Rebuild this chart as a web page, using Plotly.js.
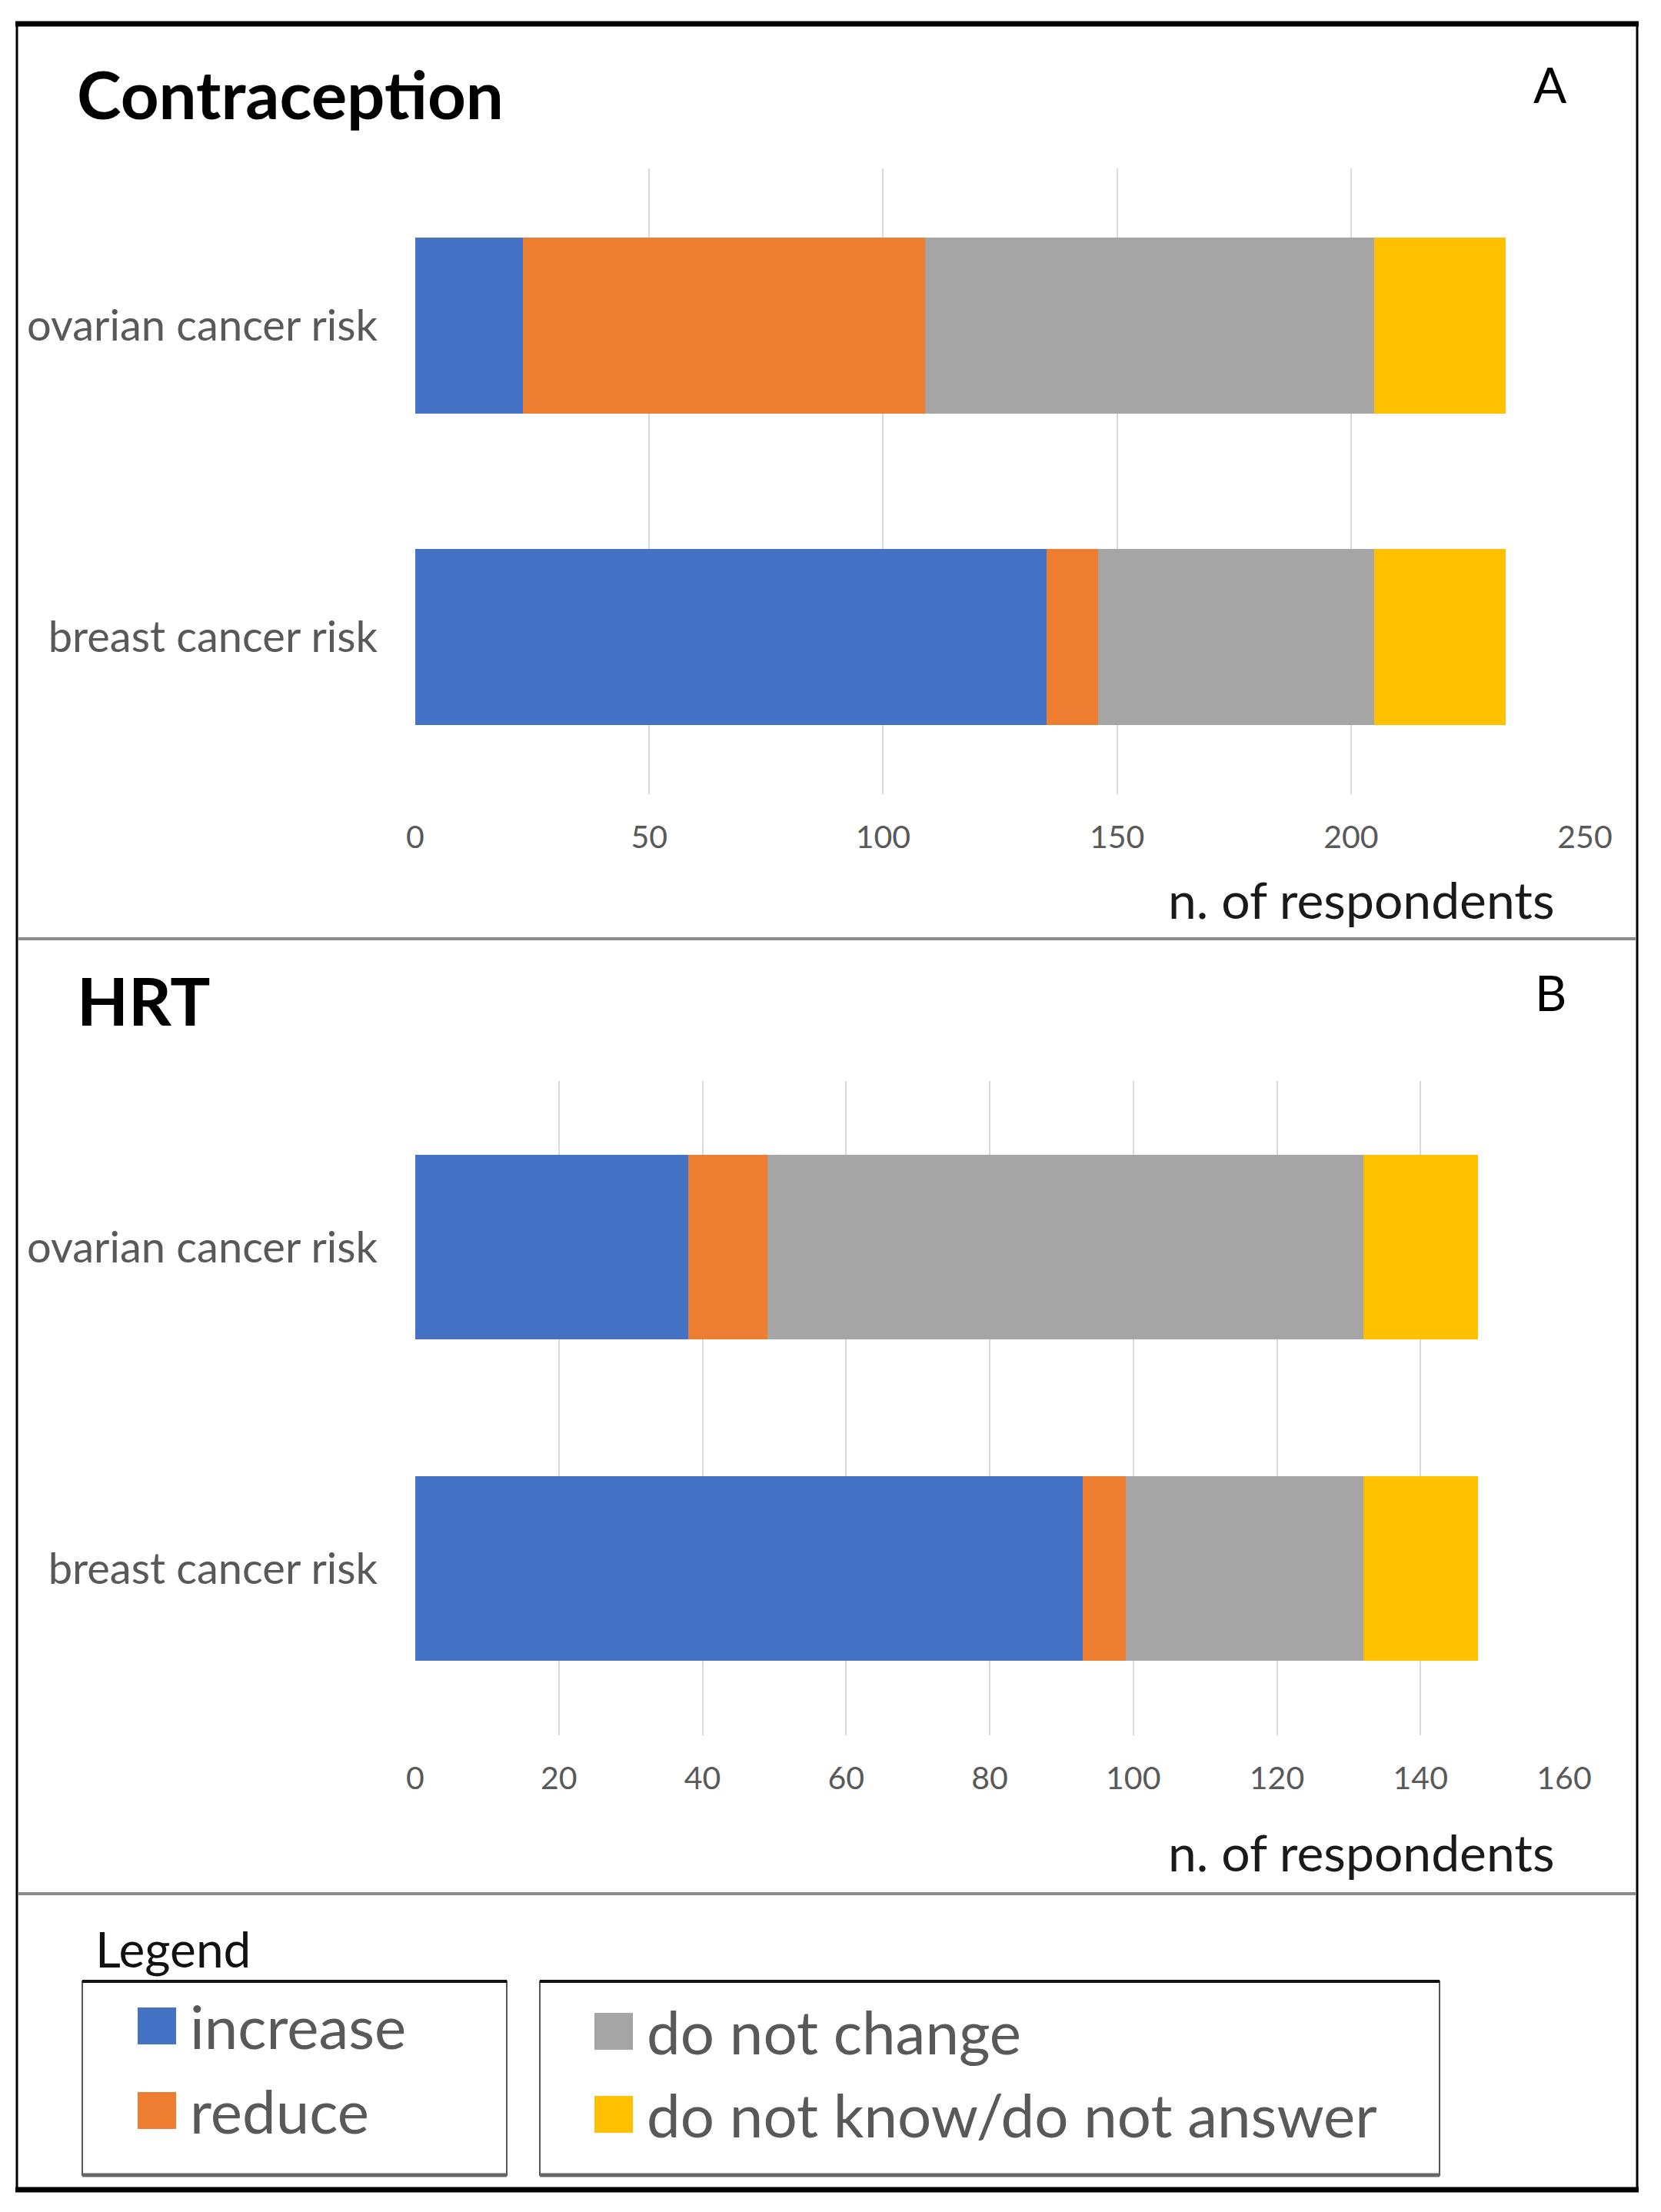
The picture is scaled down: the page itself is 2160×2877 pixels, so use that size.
<!DOCTYPE html>
<html>
<head>
<meta charset="utf-8">
<script src="https://cdn.plot.ly/plotly-3.0.1.min.js"></script>
<style>html,body{margin:0;padding:0;background:#fff;}#chart{width:2160px;height:2877px;}</style>
</head>
<body>
<div id="chart"></div>
<script>
// ---- data ----
const categories = ['ovarian cancer risk', 'breast cancer risk'];
const seriesNames = ['increase', 'reduce', 'do not change', 'do not know/do not answer'];
const seriesColors = ['#4472C4', '#ED7D31', '#A5A5A5', '#FFC000'];

const contraIncrease = [23, 135];
const contraReduce = [86, 11];
const contraNoChange = [96, 59];
const contraDontKnow = [28, 28];

const hrtIncrease = [38, 93];
const hrtReduce = [11, 6];
const hrtNoChange = [83, 33];
const hrtDontKnow = [16, 16];

const contraTicks = [0, 50, 100, 150, 200, 250];
const hrtTicks = [0, 20, 40, 60, 80, 100, 120, 140, 160];

const panelTitles = ['Contraception', 'HRT'];
const panelLetters = ['A', 'B'];
const axisTitle = 'n. of respondents';
const legendTitle = 'Legend';

// ---- layout helpers ----
const W = 2160, H = 2877;
const X = px => px / W;
const Y = py => 1 - py / H;
const FONT = 'Lato, "Open Sans", "DejaVu Sans", sans-serif';

const contraSeries = [contraIncrease, contraReduce, contraNoChange, contraDontKnow];
const hrtSeries = [hrtIncrease, hrtReduce, hrtNoChange, hrtDontKnow];

const traces = [];
seriesNames.forEach((name, i) => {
  traces.push({
    type: 'bar', orientation: 'h', name: name,
    x: contraSeries[i], y: categories,
    xaxis: 'x', yaxis: 'y', width: 0.565,
    marker: {color: seriesColors[i], line: {width: 0}},
    showlegend: false, hoverinfo: 'x+name'
  });
});
seriesNames.forEach((name, i) => {
  traces.push({
    type: 'bar', orientation: 'h', name: name,
    x: hrtSeries[i], y: categories,
    xaxis: 'x2', yaxis: 'y2', width: 0.574,
    marker: {color: seriesColors[i], line: {width: 0}},
    showlegend: false, hoverinfo: 'x+name'
  });
});

const xCommon = {
  showgrid: true, gridcolor: '#D9D9D9', gridwidth: 2,
  zeroline: false, showline: false, ticks: '',
  tickfont: {family: FONT, size: 41, color: '#595959'},
  ticklabelstandoff: 28, fixedrange: true
};
const yCommon = {
  type: 'category', showgrid: false, zeroline: false, showline: false, ticks: '',
  tickfont: {family: FONT, size: 56, color: '#595959'},
  ticklabelstandoff: 48, fixedrange: true
};

const shapes = [];
// outer frame
shapes.push({type: 'rect', xref: 'paper', yref: 'paper', x0: X(22), x1: X(2129), y0: Y(2847), y1: Y(31),
  line: {color: '#000', width: 3}, fillcolor: 'rgba(0,0,0,0)'});
shapes.push({type: 'line', xref: 'paper', yref: 'paper', x0: X(20), x1: X(2131), y0: Y(31), y1: Y(31), line: {color: '#000', width: 7}});
shapes.push({type: 'line', xref: 'paper', yref: 'paper', x0: X(20), x1: X(2131), y0: Y(2848), y1: Y(2848), line: {color: '#000', width: 7}});
// separators
[1221, 2463].forEach(py => {
  shapes.push({type: 'line', xref: 'paper', yref: 'paper', x0: X(23), x1: X(2128), y0: Y(py), y1: Y(py), line: {color: '#8a8a8a', width: 4}});
});
// legend boxes
[[107, 659], [702, 1872]].forEach(b => {
  shapes.push({type: 'rect', xref: 'paper', yref: 'paper', x0: X(b[0]), x1: X(b[1]), y0: Y(2829), y1: Y(2577),
    line: {color: '#555', width: 2}, fillcolor: 'rgba(0,0,0,0)'});
  shapes.push({type: 'line', xref: 'paper', yref: 'paper', x0: X(b[0]), x1: X(b[1]), y0: Y(2577), y1: Y(2577), line: {color: '#111', width: 4}});
  shapes.push({type: 'line', xref: 'paper', yref: 'paper', x0: X(b[0]), x1: X(b[1]), y0: Y(2829), y1: Y(2829), line: {color: '#666', width: 5}});
});

// legend entries: two per box
const legendSlots = [
  {sx: 179, cy: 2635}, {sx: 179, cy: 2745},
  {sx: 773, cy: 2642}, {sx: 773, cy: 2750}
];
const annotations = [];
seriesNames.forEach((name, i) => {
  const s = legendSlots[i];
  shapes.push({type: 'rect', xref: 'paper', yref: 'paper', x0: X(s.sx), x1: X(s.sx + 50), y0: Y(s.cy + 24), y1: Y(s.cy - 24),
    line: {width: 0}, fillcolor: seriesColors[i]});
  annotations.push({xref: 'paper', yref: 'paper', x: X(s.sx + 66), y: Y(s.cy), xanchor: 'left', yanchor: 'middle',
    text: name, showarrow: false, font: {family: FONT, size: 78, color: '#595959'}});
});

// titles and labels
[[panelTitles[0], 98, 122], [panelTitles[1], 98, 1300]].forEach(t => {
  annotations.push({xref: 'paper', yref: 'paper', x: X(t[1]), y: Y(t[2]), xanchor: 'left', yanchor: 'middle',
    text: '<b>' + t[0] + '</b>', showarrow: false, font: {family: FONT, size: 87, color: '#000'}});
});
[[panelLetters[0], 2016, 110], [panelLetters[1], 2016, 1290]].forEach(t => {
  annotations.push({xref: 'paper', yref: 'paper', x: X(t[1]), y: Y(t[2]), xanchor: 'center', yanchor: 'middle',
    text: t[0], showarrow: false, font: {family: FONT, size: 64, color: '#000'}});
});
[1170, 2408].forEach(py => {
  annotations.push({xref: 'paper', yref: 'paper', x: X(2024), y: Y(py), xanchor: 'right', yanchor: 'middle',
    text: axisTitle, showarrow: false, font: {family: FONT, size: 66, color: '#1a1a1a'}});
});
annotations.push({xref: 'paper', yref: 'paper', x: X(122), y: Y(2534), xanchor: 'left', yanchor: 'middle',
  text: legendTitle, showarrow: false, font: {family: FONT, size: 64, color: '#111'}});

const layout = {
  width: W, height: H,
  margin: {l: 0, r: 0, t: 0, b: 0, pad: 0},
  paper_bgcolor: '#fff', plot_bgcolor: '#fff',
  barmode: 'stack', showlegend: false,
  font: {family: FONT},
  xaxis: Object.assign({}, xCommon, {domain: [X(540), X(2061)], range: [0, 250], tickvals: contraTicks, anchor: 'y'}),
  yaxis: Object.assign({}, yCommon, {domain: [Y(1033), Y(219)], range: [1.505, -0.505], anchor: 'x'}),
  xaxis2: Object.assign({}, xCommon, {domain: [X(540), X(2034)], range: [0, 160], tickvals: hrtTicks, anchor: 'y2'}),
  yaxis2: Object.assign({}, yCommon, {domain: [Y(2257), Y(1406)], range: [1.519, -0.517], anchor: 'x2'}),
  shapes: shapes,
  annotations: annotations
};

Plotly.newPlot('chart', traces, layout, {staticPlot: true, displayModeBar: false});
</script>
</body>
</html>
